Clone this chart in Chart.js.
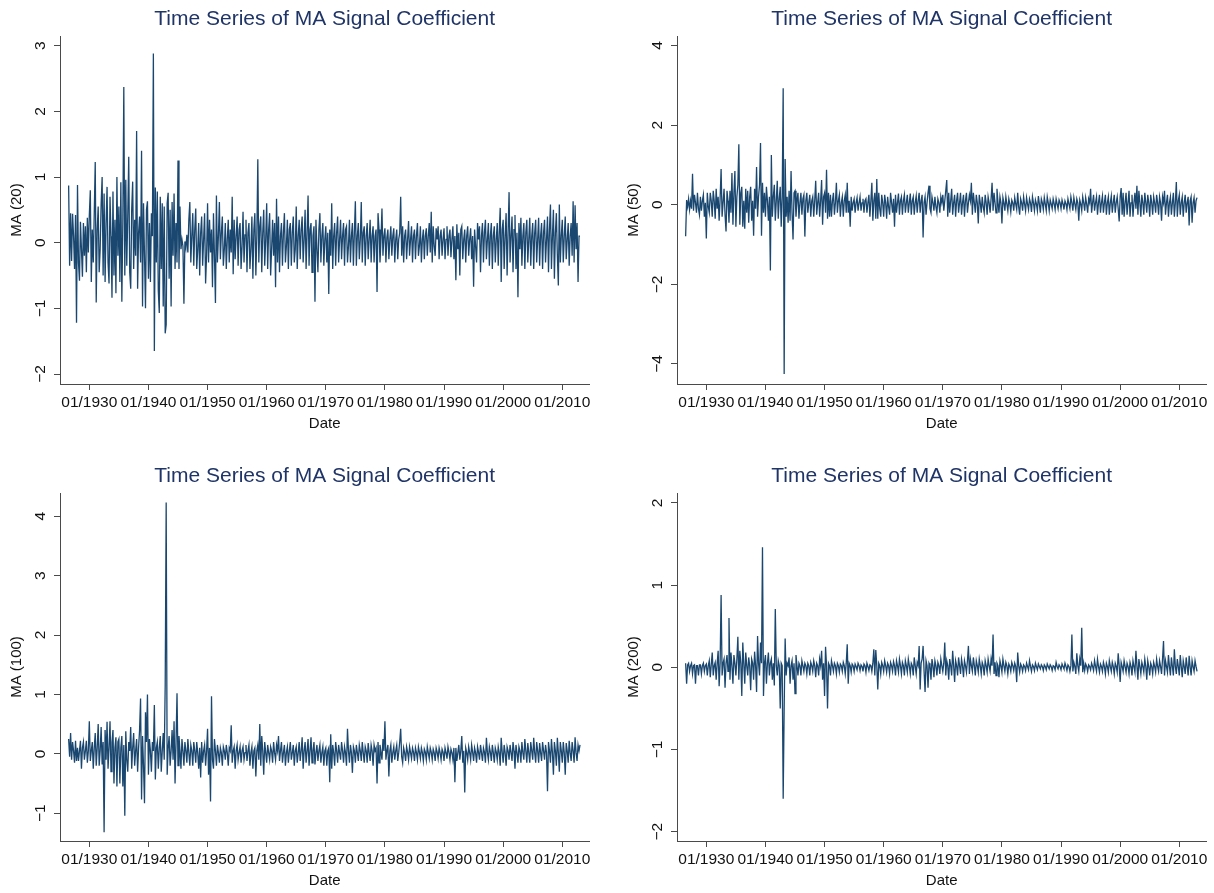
<!DOCTYPE html>
<html>
<head>
<meta charset="utf-8">
<script src="https://cdn.jsdelivr.net/npm/chart.js@4.4.1/dist/chart.umd.min.js"></script>
<style>
  body { margin: 0; background: #fff; width: 1214px; height: 893px; overflow: hidden; position: relative; }
  canvas { position: absolute; }
</style>
</head>
<body>
<canvas id="ma20" width="597" height="446" style="left:0px;top:0px"></canvas>
<canvas id="ma50" width="597" height="446" style="left:617px;top:0px"></canvas>
<canvas id="ma100" width="597" height="446" style="left:0px;top:457px"></canvas>
<canvas id="ma200" width="597" height="446" style="left:617px;top:457px"></canvas>
<script>
// bi-monthly readings, first point = 07/1926, one row per year
var startYear = 1926.5;
var step = 1 / 6;

var xTicks = [1930, 1940, 1950, 1960, 1970, 1980, 1990, 2000, 2010];

var ma20 = [
  0.87, -0.35, 0.45,
  -0.28, 0.44, 0.1, -0.4, 0.42, -1.22,
  0.88, -0.3, -0.58, 0.32, -0.1, -0.52,
  0.3, -0.2, 0.25, -0.45, 0.38, -0.15,
  0.42, 0.8, -0.6, 0.2, -0.3, 0.45,
  1.23, -0.91, 0.2, 0.55, -0.45, -0.1,
  0.6, 1.0, -0.5, 0.75, -0.6, 0.3,
  0.85, -0.3, -0.62, 0.7, 0.1, -0.84,
  0.78, -0.5, 0.35, -0.77, 1.0, -0.2,
  0.55, -0.6, 0.92, -0.9, 0.3, 2.37,
  -0.5, 0.96, -0.35, 0.4, 1.31, -0.45,
  -0.7, 0.5, 0.93, -0.4, 0.35, -0.2,
  1.7, -0.7, 0.15, 0.4, -0.3, 1.4,
  -0.97, 0.6, -0.2, -1.0, 0.5, 0.63,
  -0.55, 0.3, -0.6, 0.45, 0.1, 2.88,
  -1.65, 0.84, -0.3, 0.78, -0.73, -1.07,
  0.7, -0.4, 0.6, -0.97, 0.55, -1.38,
  -1.25, 0.6, 0.76, -0.55, 0.5, -0.97,
  0.62, -0.2, 0.75, -0.4, 0.3, -0.3,
  1.25, -0.4, 0.55, -0.1, 0.05, -0.05,
  -0.93, 0.02, -0.08, 0.12, -0.15, 0.35,
  0.62, -0.3, 0.1, 0.45, -0.35, 0.2,
  0.52, -0.4, -0.1, 0.3, -0.5, 0.15,
  0.4, -0.35, 0.05, 0.45, -0.62, -0.2,
  0.6, -0.3, 0.35, -0.15, 0.2, -0.68,
  0.45, -0.2, -0.92, 0.72, -0.3, 0.1,
  0.62, -0.25, 0.15, 0.4, -0.35, -0.1,
  0.3, -0.4, 0.05, 0.35, -0.3, 0.2,
  -0.15, 0.7, -0.48, 0.35, -0.25, 0.1,
  0.4, -0.35, 0.2, 0.3, -0.4, -0.05,
  0.47, -0.3, 0.12, 0.35, -0.45, 0.15,
  0.3, -0.4, -0.1, 0.4, -0.55, 0.2,
  0.45, -0.5, 0.1, 1.27, -0.3, 0.25,
  0.4, -0.45, 0.15, 0.5, -0.35, 0.05,
  0.6, -0.4, 0.2, 0.45, -0.5, -0.1,
  0.35, -0.2, 0.3, -0.68, 0.67, -0.3,
  0.4, -0.45, 0.1, 0.3, -0.35, 0.15,
  0.45, -0.3, -0.05, 0.35, -0.4, 0.2,
  0.3, -0.35, 0.15, 0.4, -0.3, -0.1,
  0.55, -0.4, 0.1, 0.35, -0.25, 0.2,
  0.4, -0.3, 0.05, 0.5, -0.4, 0.15,
  0.72, -0.35, 0.2, 0.3, -0.45, 0.1,
  0.25, -0.9, 0.35, -0.1, -0.45, 0.2,
  0.45, -0.3, 0.1, 0.3, -0.35, 0.05,
  0.25, -0.3, 0.15, -0.78, 0.2, -0.2,
  0.6, -0.4, 0.1, 0.3, -0.35, 0.15,
  0.4, -0.3, 0.05, 0.35, -0.25, 0.1,
  0.3, -0.35, 0.2, 0.25, -0.3, -0.05,
  0.35, -0.3, 0.1, 0.3, -0.35, 0.15,
  0.63, -0.35, 0.1, 0.3, -0.25, 0.05,
  0.62, -0.3, 0.15, 0.25, -0.35, 0.1,
  0.3, -0.25, 0.05, 0.35, -0.3, 0.1,
  0.25, -0.3, 0.1, 0.2, -0.75, 0.45,
  0.2, -0.3, 0.05, 0.52, -0.2, 0.1,
  0.22, -0.3, 0.08, 0.2, -0.25, 0.05,
  0.25, -0.2, 0.1, 0.22, -0.3, 0.05,
  0.2, -0.25, 0.05, 0.15, 0.7, -0.2,
  0.25, -0.3, 0.1, 0.2, -0.25, 0.05,
  0.33, -0.2, 0.05, 0.25, -0.3, 0.1,
  0.2, -0.25, 0.1, 0.3, -0.2, -0.05,
  0.25, -0.3, 0.05, 0.2, -0.25, 0.1,
  0.22, -0.2, 0.1, 0.3, -0.15, 0.47,
  -0.3, 0.25, -0.05, -0.2, 0.22, 0.05,
  0.25, -0.25, 0.1, 0.2, -0.2, 0.05,
  0.22, -0.25, 0.05, 0.25, -0.2, 0.1,
  0.2, -0.22, 0.05, 0.25, -0.25, 0.1,
  -0.57, 0.28, -0.1, 0.15, -0.5, 0.2,
  0.25, -0.25, 0.05, 0.2, -0.3, 0.1,
  0.25, -0.2, 0.05, 0.22, -0.25, 0.1,
  -0.67, 0.2, -0.05, -0.3, 0.3, 0.05,
  0.25, -0.45, 0.1, 0.3, -0.3, 0.15,
  0.35, -0.25, 0.05, 0.3, -0.35, 0.1,
  0.3, -0.4, 0.1, 0.25, -0.3, 0.05,
  0.3, -0.35, 0.15, 0.53, -0.6, 0.2,
  0.35, -0.4, 0.1, 0.45, -0.5, 0.15,
  0.77, -0.3, 0.1, 0.4, -0.45, 0.2,
  0.42, -0.4, 0.15, -0.83, 0.3, -0.1,
  0.38, -0.35, 0.1, 0.3, -0.4, 0.15,
  0.35, -0.3, 0.05, 0.38, -0.35, 0.1,
  0.3, -0.4, 0.15, 0.35, -0.3, 0.05,
  0.38, -0.35, 0.1, 0.3, -0.4, 0.15,
  0.35, -0.3, 0.05, 0.4, -0.45, 0.2,
  0.58, -0.4, 0.1, 0.5, -0.55, 0.15,
  0.45, -0.2, -0.65, 0.58, -0.3, 0.1,
  0.35, -0.3, 0.1, 0.4, -0.25, 0.05,
  0.3, -0.35, 0.1, 0.3, -0.2, 0.63,
  -0.3, 0.57, -0.1, 0.3, -0.6, 0.1,
  0.1
];

var ma50 = [
  -0.79, 0.12, -0.05,
  0.15, -0.12, 0.1, -0.1, 0.78, -0.15,
  0.25, 0.05, -0.2, 0.3, -0.1, -0.25,
  0.2, -0.15, 0.1, 0.25, -0.3, 0.05,
  -0.85, 0.3, -0.05, -0.2, 0.3, 0.1,
  -0.3, 0.35, 0.1, -0.35, 0.4, -0.1,
  0.2, -0.4, 0.15, 0.9, -0.3, 0.05,
  0.4, -0.25, -0.67, 0.35, 0.1, -0.45,
  0.35, -0.2, 0.8, -0.5, 0.3, 0.85,
  -0.55, 0.2, 0.5, 1.52, -0.5, 0.3,
  0.45, -0.55, 0.1, -0.6, 0.4, -0.2,
  0.35, -0.45, 0.2, 0.45, -0.4, 0.1,
  -0.78, 0.4, -0.1, 0.95, -0.3, 0.2,
  0.5, 1.55, -0.78, 0.55, -0.2, 0.3,
  -0.3, 0.45, 0.1, -0.4, 0.2, -1.65,
  1.25, -0.3, 0.2, 0.5, -0.4, 0.1,
  0.6, -0.35, 0.15, 0.45, -0.55, 0.2,
  2.93, -4.25, 1.15, -0.3, 0.2, -0.45,
  0.35, -0.4, 0.85, -0.2, -0.87, 0.3,
  0.35, -0.3, 0.1, 0.3, -0.35, 0.05,
  0.3, -0.25, 0.15, 0.25, -0.8, 0.1,
  0.3, -0.2, 0.05, 0.25, -0.3, 0.1,
  0.2, -0.3, 0.1, 0.6, -0.25, 0.05,
  0.3, -0.3, 0.1, 0.62, -0.5, 0.2,
  0.3, -0.2, 0.88, -0.35, 0.3, -0.3,
  0.25, -0.3, 0.1, 0.3, -0.25, 0.05,
  0.55, -0.2, 0.1, 0.25, -0.3, 0.05,
  0.2, -0.3, 0.1, 0.25, -0.2, 0.55,
  -0.2, 0.1, -0.55, 0.2, -0.15, 0.05,
  0.15, -0.2, 0.05, 0.18, -0.15, 0.05,
  0.2, -0.15, 0.05, 0.15, -0.2, 0.1,
  0.15, -0.2, 0.05, 0.25, -0.3, 0.1,
  0.55, -0.4, 0.1, 0.3, -0.35, 0.65,
  -0.35, 0.3, -0.1, -0.3, 0.25, 0.05,
  -0.3, 0.25, 0.05, -0.35, 0.2, -0.05,
  -0.25, 0.3, 0.05, -0.2, 0.15, -0.55,
  0.25, -0.2, 0.05, 0.28, -0.25, 0.1,
  0.2, -0.25, 0.1, 0.25, -0.2, 0.05,
  0.25, -0.2, 0.05, 0.28, -0.25, 0.1,
  0.2, -0.25, 0.05, 0.22, -0.2, 0.1,
  0.3, -0.2, 0.1, 0.25, -0.82, 0.05,
  0.2, -0.25, 0.05, 0.3, 0.48, -0.1,
  -0.2, 0.2, 0.05, -0.15, 0.2, -0.05,
  -0.2, 0.15, 0.05, -0.2, 0.2, 0.05,
  0.25, -0.15, 0.1, 0.35, 0.62, -0.3,
  0.3, -0.2, 0.1, 0.4, -0.25, 0.05,
  0.25, -0.3, 0.1, 0.3, -0.2, 0.05,
  0.3, -0.25, 0.05, 0.25, -0.3, 0.1,
  0.3, -0.2, 0.05, 0.25, 0.1, 0.55,
  -0.25, 0.3, 0.05, -0.2, 0.25, 0.05,
  -0.47, 0.25, 0.05, -0.2, 0.2, -0.05,
  -0.2, 0.25, 0.05, -0.25, 0.2, 0.05,
  -0.2, 0.15, 0.55, -0.15, 0.3, 0.05,
  -0.2, 0.4, 0.05, -0.2, 0.2, 0.05,
  -0.47, 0.18, 0.05, -0.15, 0.2, 0.02,
  -0.15, 0.15, 0.02, -0.18, 0.12, 0.05,
  -0.15, 0.18, 0.02, -0.12, 0.3, -0.05,
  -0.25, 0.15, 0.05, -0.15, 0.2, 0.02,
  -0.15, 0.18, 0.02, -0.12, 0.15, 0.05,
  -0.18, 0.2, 0.05, -0.15, 0.12, 0.02,
  -0.15, 0.22, 0.02, -0.2, 0.15, 0.05,
  -0.12, 0.18, 0.02, -0.15, 0.2, 0.05,
  -0.15, 0.12, 0.02, -0.1, 0.15, 0.03,
  -0.12, 0.15, 0.02, -0.1, 0.12, 0.05,
  -0.1, 0.12, 0.02, -0.12, 0.1, 0.03,
  -0.12, 0.15, 0.02, -0.1, 0.2, 0.05,
  -0.15, 0.18, 0.02, -0.12, 0.15, 0.05,
  -0.4, 0.12, 0.02, -0.15, 0.2, 0.05,
  -0.15, 0.18, 0.02, -0.2, 0.15, 0.05,
  0.4, -0.2, 0.05, 0.25, -0.15, 0.05,
  0.2, -0.25, 0.05, 0.25, -0.2, 0.05,
  0.22, -0.2, 0.05, 0.25, -0.25, 0.05,
  0.2, -0.25, 0.05, 0.22, -0.2, 0.05,
  0.25, -0.2, 0.05, 0.2, -0.1, -0.42,
  0.2, 0.42, -0.25, 0.3, -0.3, 0.05,
  0.3, -0.25, 0.05, 0.35, -0.3, 0.05,
  0.25, -0.3, 0.05, 0.3, -0.1, 0.48,
  -0.25, 0.35, 0.05, -0.3, 0.25, 0.05,
  -0.25, 0.3, 0.05, -0.2, 0.25, 0.05,
  -0.3, 0.25, 0.05, -0.25, 0.2, 0.05,
  -0.2, 0.25, 0.05, -0.25, 0.2, 0.05,
  -0.4, 0.2, 0.05, 0.35, -0.25, 0.05,
  0.25, -0.3, 0.05, 0.2, -0.25, 0.05,
  0.3, -0.3, 0.05, 0.57, -0.3, 0.1,
  0.25, -0.25, 0.05, 0.2, -0.3, 0.05,
  0.25, -0.2, 0.05, 0.2, -0.52, 0.1,
  0.2, -0.45, 0.05, 0.18, -0.2, 0.1,
  0.18
];

var ma100 = [
  0.25, -0.05, 0.35,
  -0.1, 0.2, 0.05, -0.15, 0.22, -0.12,
  0.1, -0.12, 0.05, 0.22, -0.25, 0.1,
  0.2, -0.1, 0.05, 0.22, -0.15, 0.05,
  0.55, -0.12, 0.05, 0.2, -0.25, 0.1,
  0.35, -0.2, 0.1, 0.5, -0.2, 0.05,
  0.45, -0.18, 0.2, -1.32, 0.4, -0.1,
  0.54, -0.25, 0.1, 0.55, -0.3, 0.2,
  0.4, -0.5, 0.1, 0.28, -0.55, 0.2,
  0.25, -0.5, 0.1, 0.3, -0.55, 0.15,
  -1.04, 0.38, -0.1, -0.3, 0.2, 0.05,
  0.45, -0.25, 0.1, 0.35, -0.2, 0.05,
  0.25, -0.3, 0.1, 0.4, 0.93, -0.77,
  0.3, -0.2, -0.83, 0.7, 0.2, 1.0,
  -0.35, 0.25, 0.05, -0.3, 0.2, 0.05,
  0.82, -0.43, 0.1, 0.2, -0.25, 0.1,
  0.3, -0.3, 0.05, 0.35, -0.1, 1.15,
  4.23, -0.35, 0.1, 0.3, -0.2, 0.05,
  0.4, -0.1, 0.55, -0.5, 0.2, 1.02,
  -0.2, 0.3, 0.05, -0.25, 0.25, 0.05,
  -0.2, 0.2, 0.05, -0.15, 0.25, 0.02,
  -0.2, 0.15, 0.05, -0.2, 0.2, 0.05,
  -0.15, 0.2, 0.02, -0.25, 0.1, -0.4,
  0.2, -0.15, 0.05, 0.15, -0.2, 0.05,
  0.42, -0.35, 0.1, -0.8, 0.97, -0.1,
  -0.25, 0.25, 0.05, -0.2, 0.15, 0.02,
  -0.15, 0.1, 0.02, -0.2, 0.12, 0.05,
  -0.1, 0.15, 0.02, -0.2, 0.1, 0.05,
  0.48, -0.15, 0.05, 0.12, -0.25, 0.05,
  0.15, -0.1, 0.02, 0.12, -0.15, 0.05,
  0.12, -0.1, 0.02, 0.15, -0.12, 0.05,
  0.15, -0.2, 0.02, 0.12, -0.25, 0.05,
  0.1, -0.38, 0.05, 0.15, -0.1, 0.5,
  -0.2, 0.3, 0.05, -0.35, 0.2, 0.02,
  -0.15, 0.15, 0.02, -0.1, 0.12, 0.05,
  -0.15, 0.2, 0.02, -0.1, 0.15, 0.05,
  0.3, -0.12, 0.05, 0.2, -0.15, 0.02,
  0.15, -0.2, 0.02, 0.12, -0.15, 0.05,
  0.2, -0.1, 0.02, 0.15, -0.2, 0.05,
  0.12, -0.15, 0.02, 0.2, -0.12, 0.05,
  0.28, -0.25, 0.05, 0.2, -0.15, 0.05,
  0.25, -0.2, 0.05, 0.28, -0.15, 0.05,
  0.2, -0.18, 0.02, 0.15, -0.12, 0.05,
  0.15, -0.15, 0.02, 0.12, -0.2, 0.05,
  0.1, -0.2, 0.05, 0.1, -0.48, 0.33,
  -0.25, 0.15, 0.02, -0.2, 0.2, 0.05,
  -0.15, 0.15, 0.02, -0.1, 0.2, 0.05,
  -0.15, 0.12, 0.02, -0.2, 0.42, 0.05,
  -0.15, 0.15, 0.02, -0.32, 0.12, 0.05,
  -0.15, 0.15, 0.02, -0.12, 0.15, 0.05,
  -0.12, 0.2, 0.02, -0.15, 0.12, 0.05,
  -0.15, 0.18, 0.02, -0.12, 0.15, 0.05,
  -0.2, 0.15, 0.05, 0.1, -0.5, 0.2,
  -0.15, 0.15, 0.02, -0.1, 0.25, 0.05,
  0.55, -0.1, 0.05, 0.15, -0.38, 0.05,
  0.15, -0.15, 0.02, 0.12, -0.1, 0.05,
  0.15, -0.12, 0.02, 0.2, 0.42, -0.05,
  -0.15, 0.1, 0.02, -0.12, 0.12, 0.03,
  -0.1, 0.12, 0.02, -0.08, 0.1, 0.03,
  -0.12, 0.1, 0.02, -0.1, 0.12, 0.03,
  -0.08, 0.1, 0.02, -0.12, 0.08, 0.03,
  -0.1, 0.12, 0.02, -0.08, 0.1, 0.03,
  -0.1, 0.08, 0.02, -0.12, 0.1, 0.03,
  -0.08, 0.1, 0.02, -0.1, 0.08, 0.03,
  -0.12, 0.1, 0.02, -0.08, 0.12, 0.03,
  -0.1, 0.08, 0.02, -0.1, 0.1, -0.48,
  0.1, -0.12, 0.02, 0.15, -0.1, 0.05,
  0.3, -0.15, 0.05, -0.65, 0.1, 0.02,
  -0.1, 0.12, 0.02, -0.1, 0.15, 0.03,
  -0.12, 0.1, 0.02, -0.15, 0.12, 0.03,
  -0.1, 0.15, 0.02, -0.12, 0.1, 0.03,
  -0.15, 0.27, 0.02, -0.1, 0.12, 0.03,
  -0.12, 0.15, 0.02, -0.15, 0.1, 0.03,
  -0.1, 0.12, 0.02, -0.2, 0.27, 0.03,
  -0.15, 0.15, 0.02, -0.2, 0.12, 0.05,
  -0.1, 0.15, 0.02, -0.12, 0.2, 0.05,
  -0.25, 0.15, 0.02, -0.15, 0.12, 0.05,
  -0.15, 0.2, 0.02, -0.1, 0.25, 0.05,
  -0.15, 0.18, 0.02, -0.15, 0.2, 0.05,
  -0.1, 0.27, 0.02, -0.15, 0.2, 0.05,
  -0.15, 0.18, 0.02, -0.12, 0.2, 0.05,
  -0.1, 0.15, 0.02, -0.63, 0.2, 0.05,
  -0.15, 0.25, 0.02, -0.35, 0.2, 0.05,
  -0.2, 0.27, 0.02, -0.3, 0.2, 0.05,
  -0.15, 0.2, 0.02, -0.35, 0.18, 0.05,
  -0.15, 0.22, 0.02, -0.12, 0.2, 0.05,
  -0.15, 0.28, 0.02, -0.12, 0.15, 0.05,
  0.15
];

var ma200 = [
  0.05, -0.2, 0.03,
  0.05, -0.05, 0.02, 0.05, -0.08, 0.02,
  0.03, -0.2, 0.02, 0.02, -0.1, 0.03,
  0.03, -0.08, 0.02, 0.05, -0.05, 0.02,
  0.04, -0.1, 0.02, 0.08, -0.12, 0.03,
  0.18, -0.1, 0.02, 0.06, -0.15, 0.05,
  0.2, -0.23, 0.05, 0.88, -0.1, 0.05,
  0.1, -0.25, 0.05, 0.15, -0.05, 0.6,
  -0.15, 0.18, 0.02, -0.2, 0.15, 0.05,
  -0.1, 0.1, 0.37, -0.15, 0.2, 0.05,
  -0.35, 0.3, 0.05, -0.2, 0.18, 0.02,
  -0.1, 0.12, 0.02, -0.28, 0.1, 0.05,
  -0.15, 0.19, 0.02, -0.3, 0.38, 0.05,
  -0.1, 0.3, 0.05, 1.46, -0.35, 0.05,
  0.15, -0.2, 0.05, 0.18, -0.1, 0.05,
  0.1, -0.15, 0.05, -0.22, 0.71, 0.02,
  -0.1, 0.08, 0.02, -0.5, 0.05, 0.02,
  -1.6, -0.5, 0.35, -0.1, 0.05, 0.02,
  0.12, -0.2, 0.02, 0.08, -0.15, 0.05,
  -0.32, 0.15, 0.02, -0.1, 0.05, 0.02,
  -0.1, 0.08, 0.02, -0.05, 0.05, 0.02,
  -0.08, 0.05, 0.02, -0.1, 0.06, 0.02,
  -0.05, 0.08, 0.02, -0.12, 0.05, 0.02,
  -0.1, 0.1, 0.02, 0.2, -0.15, 0.05,
  -0.35, 0.25, 0.02, -0.5, 0.05, 0.02,
  -0.1, 0.08, 0.02, -0.05, 0.05, 0.02,
  -0.08, 0.05, 0.02, -0.06, 0.04, 0.02,
  -0.05, 0.06, 0.02, -0.08, 0.05, 0.28,
  -0.2, 0.05, 0.02, -0.06, 0.04, 0.02,
  -0.05, 0.04, 0.01, -0.03, 0.05, 0.02,
  -0.04, 0.03, 0.01, -0.05, 0.04, 0.02,
  -0.06, 0.05, 0.01, -0.04, 0.03, 0.02,
  -0.05, 0.05, 0.22, -0.1, 0.21, 0.02,
  -0.27, 0.05, 0.02, -0.08, 0.06, 0.02,
  -0.05, 0.08, 0.02, -0.06, 0.05, 0.02,
  -0.08, 0.06, 0.02, -0.05, 0.07, 0.02,
  -0.1, 0.08, 0.02, -0.06, 0.1, 0.02,
  -0.08, 0.06, 0.02, -0.1, 0.08, 0.02,
  -0.06, 0.1, 0.02, -0.08, 0.05, 0.02,
  -0.1, 0.12, 0.02, -0.08, 0.06, 0.02,
  0.26, -0.27, 0.05, 0.1, 0.26, -0.05,
  -0.3, 0.08, 0.02, -0.25, 0.05, 0.02,
  -0.15, 0.1, 0.02, -0.12, 0.08, 0.02,
  -0.1, 0.06, 0.02, -0.08, 0.1, 0.02,
  -0.05, 0.05, 0.3, -0.1, 0.08, 0.02,
  -0.15, 0.1, 0.02, -0.1, 0.2, 0.02,
  -0.18, 0.08, 0.02, -0.1, 0.12, 0.02,
  -0.08, 0.1, 0.02, -0.12, 0.08, 0.02,
  -0.06, 0.08, 0.26, -0.08, 0.1, 0.02,
  -0.05, 0.12, 0.02, -0.1, 0.08, 0.02,
  -0.06, 0.1, 0.02, -0.08, 0.06, 0.02,
  -0.1, 0.08, 0.02, -0.06, 0.1, 0.02,
  -0.05, 0.1, 0.02, 0.4, -0.08, 0.06,
  -0.1, 0.05, 0.02, -0.12, 0.08, 0.02,
  -0.06, 0.1, 0.02, -0.05, 0.06, 0.02,
  -0.08, 0.04, 0.01, -0.05, 0.06, 0.02,
  -0.04, 0.05, 0.01, -0.18, 0.18, 0.02,
  -0.06, 0.04, 0.01, -0.05, 0.03, 0.01,
  -0.04, 0.05, 0.01, -0.03, 0.08, 0.01,
  -0.05, 0.03, 0.01, -0.04, 0.05, 0.01,
  -0.03, 0.04, 0.01, -0.02, 0.03, 0.01,
  -0.04, 0.03, 0.01, -0.03, 0.04, 0.01,
  -0.02, 0.03, 0.01, -0.04, 0.02, 0.01,
  -0.03, 0.06, 0.01, -0.02, 0.03, 0.01,
  -0.03, 0.04, 0.01, -0.02, 0.05, 0.01,
  -0.04, 0.03, 0.01, -0.05, 0.02, 0.4,
  -0.05, 0.06, 0.01, -0.08, 0.17, 0.02,
  -0.05, 0.1, 0.02, 0.48, -0.06, 0.05,
  -0.04, 0.04, 0.01, -0.05, 0.03, 0.01,
  -0.03, 0.05, 0.01, -0.04, 0.08, 0.01,
  -0.05, 0.1, 0.01, -0.06, 0.04, 0.01,
  -0.05, 0.06, 0.01, -0.08, 0.05, 0.01,
  -0.06, 0.08, 0.01, -0.05, 0.06, 0.01,
  -0.08, 0.05, 0.01, -0.06, 0.17, 0.02,
  -0.18, 0.06, 0.01, -0.05, 0.08, 0.01,
  -0.06, 0.05, 0.01, -0.08, 0.06, 0.01,
  -0.1, 0.08, 0.01, -0.06, 0.2, 0.02,
  -0.15, 0.1, 0.01, -0.08, 0.06, 0.01,
  -0.06, 0.1, 0.01, -0.15, 0.08, 0.01,
  -0.1, 0.05, 0.01, -0.08, 0.06, 0.01,
  -0.06, 0.1, 0.01, -0.05, 0.08, 0.01,
  -0.08, 0.1, 0.32, -0.1, 0.08, 0.01,
  -0.06, 0.15, 0.01, -0.1, 0.12, 0.01,
  -0.1, 0.22, 0.01, -0.08, 0.1, 0.01,
  -0.1, 0.15, 0.01, -0.12, 0.08, 0.01,
  -0.08, 0.12, 0.01, -0.1, 0.14, 0.01,
  -0.1, 0.08, 0.01, -0.05, 0.08, 0.01,
  -0.05
];

Chart.defaults.font.family = "'Liberation Sans', Arial, Helvetica, sans-serif";
Chart.defaults.color = '#000';

function toPoints(values) {
  var pts = [];
  for (var i = 0; i < values.length; i++) {
    pts.push({ x: startYear + i * step, y: values[i] });
  }
  return pts;
}

function makeChart(id, values, yLabel, yTicks, yMin, yMax) {
  var ctx = document.getElementById(id).getContext('2d');
  return new Chart(ctx, {
    type: 'line',
    data: {
      datasets: [{
        data: toPoints(values),
        borderColor: '#1a476f',
        borderWidth: 1.3,
        pointRadius: 0,
        tension: 0,
        fill: false
      }]
    },
    options: {
      responsive: false,
      animation: false,
      events: [],
      layout: { padding: { left: 0, right: 7.7, top: 0, bottom: 2 } },
      plugins: {
        legend: { display: false },
        tooltip: { enabled: false },
        title: {
          display: true,
          text: 'Time Series of MA Signal Coefficient',
          fullSize: false,
          color: '#1f3467',
          font: { size: 21, weight: 'normal' },
          padding: { top: 6.7, bottom: 4.1 }
        }
      },
      scales: {
        x: {
          type: 'linear',
          min: 1925.04,
          max: 2014.57,
          afterBuildTicks: function (scale) {
            scale.ticks = xTicks.map(function (v) { return { value: v }; });
          },
          afterFit: function (scale) {
            scale.height = 60;
            scale.paddingLeft = 0;
            scale.paddingRight = 0;
          },
          ticks: {
            autoSkip: false,
            minRotation: 0,
            maxRotation: 0,
            padding: 3,
            font: { size: 15.5 },
            color: '#111',
            callback: function (v) { return '01/' + v; }
          },
          grid: { display: true, drawOnChartArea: false, drawTicks: true, tickLength: 6, color: '#4a4a4a' },
          border: { display: true, color: '#4a4a4a', width: 1 },
          title: { display: true, text: 'Date', font: { size: 15 }, color: '#111', padding: { top: 0, bottom: 10.7 } }
        },
        y: {
          type: 'linear',
          min: yMin,
          max: yMax,
          afterBuildTicks: function (scale) {
            scale.ticks = yTicks.map(function (v) { return { value: v }; });
          },
          afterFit: function (scale) {
            scale.width = 60;
            scale.paddingTop = 0;
            scale.paddingBottom = 0;
          },
          ticks: {
            minRotation: 90,
            maxRotation: 90,
            crossAlign: 'center',
            padding: 4.5,
            font: { size: 15.5 },
            color: '#111',
            callback: function (v) { return v < 0 ? '\u2212' + Math.abs(v) : String(v); }
          },
          grid: { display: true, drawOnChartArea: false, drawTicks: true, tickLength: 6, color: '#4a4a4a' },
          border: { display: true, color: '#4a4a4a', width: 1 },
          title: { display: true, text: yLabel, font: { size: 15 }, color: '#111', padding: { top: 8.3, bottom: 0 } }
        }
      }
    }
  });
}

makeChart('ma20', ma20, 'MA (20)', [-2, -1, 0, 1, 2, 3], -2.152, 3.148);
makeChart('ma50', ma50, 'MA (50)', [-4, -2, 0, 2, 4], -4.503, 4.24);
makeChart('ma100', ma100, 'MA (100)', [-1, 0, 1, 2, 3, 4], -1.467, 4.39);
makeChart('ma200', ma200, 'MA (200)', [-2, -1, 0, 1, 2], -2.113, 2.12);
</script>
</body>
</html>
